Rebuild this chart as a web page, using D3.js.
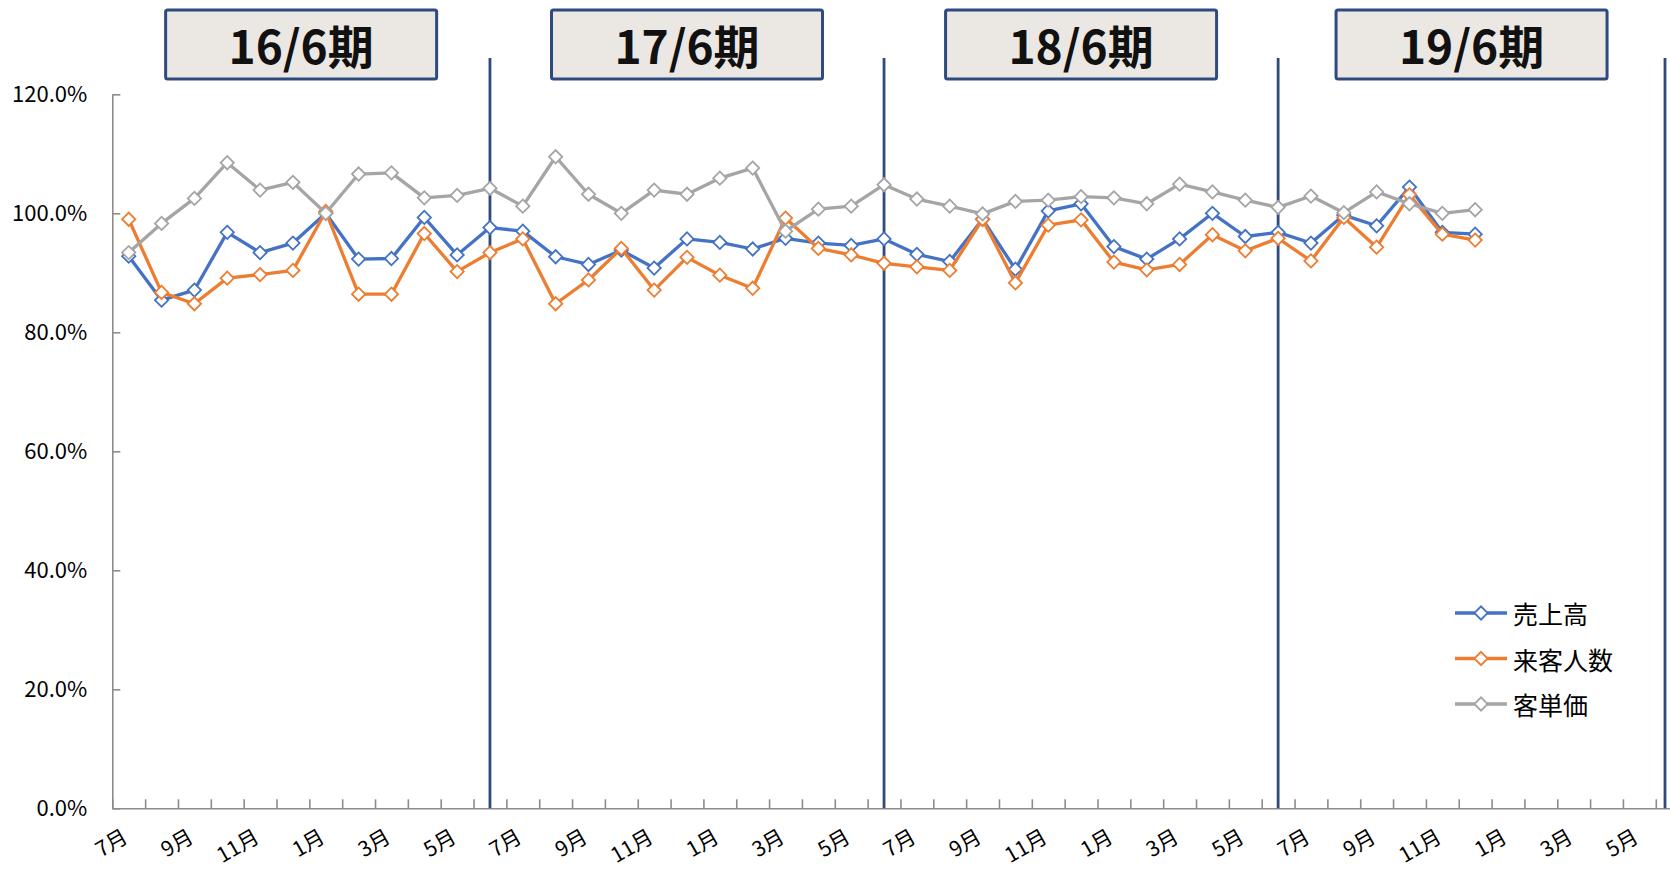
<!DOCTYPE html>
<html>
<head>
<meta charset="utf-8">
<script src="https://cdn.jsdelivr.net/npm/d3@7"></script>
<style>
  html, body { margin: 0; padding: 0; background: #ffffff; }
  svg { display: block; font-family: "Noto Sans CJK JP", "Noto Sans", sans-serif; }
</style>
</head>
<body>
<svg id="chart" width="1670" height="869"></svg>
<script>
// Monthly categories, July 2016 through June 2020 (fiscal years ending in June)
const months = [
  "7月","8月","9月","10月","11月","12月","1月","2月","3月","4月","5月","6月",
  "7月","8月","9月","10月","11月","12月","1月","2月","3月","4月","5月","6月",
  "7月","8月","9月","10月","11月","12月","1月","2月","3月","4月","5月","6月",
  "7月","8月","9月","10月","11月","12月","1月","2月","3月","4月","5月","6月"
];
const periods = ["16/6期", "17/6期", "18/6期", "19/6期"];
const seriesNames = ["売上高", "来客人数", "客単価"];

// Year-over-year ratios (%), July 2016 – December 2019
const sales = [
  92.8, 85.4, 87.1, 96.8, 93.4, 95.0, 100.0, 92.3, 92.4, 99.3, 93.0, 97.6,
  97.0, 92.7, 91.4, 93.8, 90.8, 95.7, 95.1, 94.0, 95.8, 95.0, 94.6, 95.7,
  93.1, 91.9, 99.0, 90.6, 100.4, 101.6, 94.4, 92.3, 95.7, 100.0, 96.1, 96.8,
  95.0, 99.7, 97.9, 104.4, 96.8, 96.5
];
const visitors = [
  99.0, 86.7, 84.8, 89.1, 89.7, 90.4, 100.3, 86.4, 86.4, 96.6, 90.2, 93.4,
  95.7, 84.8, 88.8, 94.1, 87.1, 92.6, 89.6, 87.4, 99.2, 94.1, 93.0, 91.6,
  91.0, 90.4, 99.0, 88.3, 98.0, 98.9, 91.8, 90.5, 91.4, 96.4, 93.7, 95.8,
  92.0, 99.3, 94.3, 103.1, 96.5, 95.5
];
const unitPrice = [
  93.4, 98.3, 102.5, 108.5, 103.9, 105.2, 100.0, 106.6, 106.8, 102.6, 103.0, 104.2,
  101.2, 109.5, 103.2, 100.0, 103.9, 103.2, 105.9, 107.6, 97.0, 100.7, 101.2, 104.8,
  102.4, 101.2, 99.9, 102.0, 102.2, 102.8, 102.6, 101.6, 104.9, 103.6, 102.2, 101.0,
  102.9, 100.1, 103.6, 101.6, 100.0, 100.6
];
const yTicks = [0, 20, 40, 60, 80, 100, 120];

const colors = ["#4472C4", "#ED7D31", "#A5A5A5"];
const series = [sales, visitors, unitPrice].map((values, i) => ({
  name: seriesNames[i], values, color: colors[i]
}));

// ---- layout ----
const W = 1670, H = 869;
const plotLeft = 112.3, plotTop = 94.3, plotBottom = 808.3, step = 32.84;
const axisColor = "#8c8c8c";
const navy = "#2F4A7C";

const svg = d3.select("#chart");

const x = d3.scaleBand()
  .domain(d3.range(months.length))
  .range([plotLeft, plotLeft + step * months.length])
  .paddingInner(0).paddingOuter(0);
const xEdge = d3.scaleLinear()
  .domain([0, months.length])
  .range([plotLeft, plotLeft + step * months.length]);
const y = d3.scaleLinear().domain([0, 120]).range([plotBottom, plotTop]);
const cx = i => x(i) + x.bandwidth() / 2;

// ---- y axis ----
const yAxis = svg.append("g")
  .attr("transform", `translate(${plotLeft},0)`)
  .call(d3.axisLeft(y)
    .tickValues(yTicks)
    .tickSize(-8)
    .tickSizeOuter(0)
    .tickPadding(25)
    .tickFormat(d => d.toFixed(1) + "%"));
yAxis.select(".domain").attr("stroke", axisColor).attr("stroke-width", 1.6);
yAxis.selectAll(".tick line").attr("stroke", axisColor).attr("stroke-width", 1.6);
yAxis.selectAll(".tick text")
  .attr("fill", "#000").attr("font-size", 22)
  .attr("font-family", "\"Noto Sans CJK JP\", sans-serif");

// ---- x axis: ticks on category boundaries ----
const xAxis = svg.append("g")
  .attr("transform", `translate(0,${plotBottom})`)
  .call(d3.axisBottom(xEdge)
    .tickValues(d3.range(0, months.length + 1))
    .tickSize(-9)
    .tickSizeOuter(0)
    .tickFormat(""));
xAxis.select(".domain").attr("stroke", axisColor).attr("stroke-width", 1.6);
xAxis.selectAll(".tick line").attr("stroke", axisColor).attr("stroke-width", 1.6);

// category labels, every other month, rotated
svg.append("g").selectAll("text")
  .data(d3.range(0, months.length, 2))
  .join("text")
  .attr("transform", i => `translate(${cx(i) + 0.5},${plotBottom + 33}) rotate(-30)`)
  .attr("text-anchor", "end")
  .attr("font-size", 21)
  .attr("fill", "#000")
  .text(i => months[i]);

// ---- period dividers at each June ----
const juneIdx = d3.range(months.length).filter(i => months[i] === "6月");
const divX = juneIdx.map(i => Math.min(cx(i), W - 5));
svg.append("g").selectAll("line")
  .data(divX)
  .join("line")
  .attr("x1", d => d).attr("x2", d => d)
  .attr("y1", 58).attr("y2", plotBottom)
  .attr("stroke", navy).attr("stroke-width", 2.8);

// ---- period header boxes ----
const bounds = [plotLeft, ...divX];
const boxW = 271, boxH = 69;
const hdr = svg.append("g").selectAll("g")
  .data(periods)
  .join("g")
  .attr("transform", (d, k) => `translate(${(bounds[k] + bounds[k + 1]) / 2},10)`);
hdr.append("rect")
  .attr("x", -boxW / 2).attr("y", 0)
  .attr("width", boxW).attr("height", boxH)
  .attr("rx", 2)
  .attr("fill", "#EBE7E3")
  .attr("stroke", navy).attr("stroke-width", 3);
hdr.append("text")
  .attr("x", 0).attr("y", boxH / 2 - 1)
  .attr("text-anchor", "middle")
  .attr("dominant-baseline", "central")
  .attr("font-size", 46)
  .attr("font-weight", 700)
  .attr("fill", "#111")
  .text(d => d);

// ---- series ----
const diamond = d3.symbol().type(d3.symbolSquare).size(88);
const line = d3.line().x((d, i) => cx(i)).y(d => y(d));

series.forEach(s => {
  const g = svg.append("g");
  g.append("path")
    .attr("d", line(s.values))
    .attr("fill", "none")
    .attr("stroke", s.color)
    .attr("stroke-width", 3.3)
    .attr("stroke-linejoin", "round");
  g.selectAll("path.m")
    .data(s.values)
    .join("path")
    .attr("class", "m")
    .attr("d", diamond)
    .attr("transform", (d, i) => `translate(${cx(i)},${y(d)}) rotate(45)`)
    .attr("fill", "#fff")
    .attr("stroke", s.color)
    .attr("stroke-width", 1.8);
});

// ---- legend ----
const legend = svg.append("g").attr("transform", "translate(1455,613)");
const item = legend.selectAll("g")
  .data(series)
  .join("g")
  .attr("transform", (d, i) => `translate(0,${i * 45.5})`);
item.append("line")
  .attr("x1", 0).attr("x2", 52).attr("y1", 0).attr("y2", 0)
  .attr("stroke", d => d.color).attr("stroke-width", 3.3);
item.append("path")
  .attr("d", diamond)
  .attr("transform", "translate(26,0) rotate(45)")
  .attr("fill", "#fff")
  .attr("stroke", d => d.color)
  .attr("stroke-width", 1.8);
item.append("text")
  .attr("x", 58).attr("y", 0)
  .attr("dominant-baseline", "central")
  .attr("font-size", 25)
  .attr("fill", "#000")
  .text(d => d.name);
</script>
</body>
</html>
